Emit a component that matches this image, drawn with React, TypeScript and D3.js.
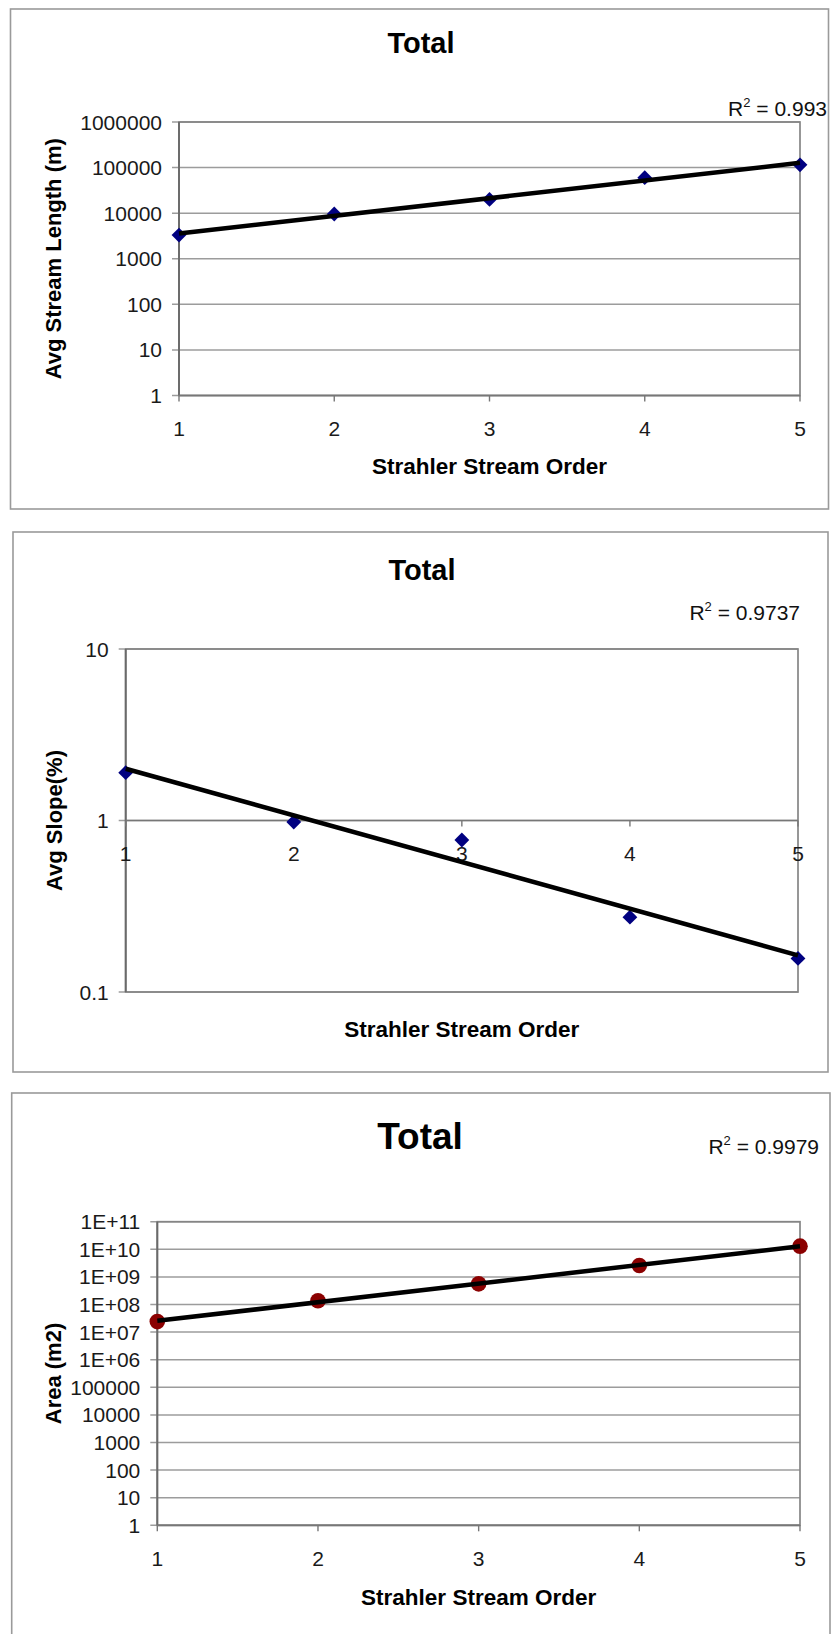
import React from 'react';
import * as d3 from 'd3';

// Strahler stream order on every x axis
const orders = [1, 2, 3, 4, 5];

// values
const avgStreamLength = [3300, 9600, 20000, 60000, 115000];
const avgSlope = [1.9, 0.98, 0.77, 0.273, 0.157];
const area = [2.4e7, 1.36e8, 5.6e8, 2.6e9, 1.3e10];

const lengthTicks = [1, 10, 100, 1000, 10000, 100000, 1000000];
const slopeTicks = [0.1, 1, 10];
const areaTicks = [1, 10, 100, 1000, 10000, 100000, 1e6, 1e7, 1e8, 1e9, 1e10, 1e11];

const r2Values = ['0.993', '0.9737', '0.9979'];

const FONT = 'Liberation Sans, Arial, Helvetica, sans-serif';

const fmtPlain = (v: number) => (v < 1 ? d3.format('.1f')(v) : String(v));
const fmtExcel = (v: number) => {
  if (v < 1e6) return String(v);
  const e = Math.round(Math.log10(v));
  return '1E+' + (e < 10 ? '0' + e : e);
};

// exponential trendline (least squares on log10 y), like Excel
function expFit(xs: number[], ys: number[]) {
  const ly = ys.map((v) => Math.log10(v));
  const mx = d3.mean(xs) as number;
  const my = d3.mean(ly) as number;
  const num = d3.sum(xs, (x, i) => (x - mx) * (ly[i] - my));
  const den = d3.sum(xs, (x) => (x - mx) * (x - mx));
  const b = num / den;
  const a = my - b * mx;
  return (x: number) => Math.pow(10, a + b * x);
}

type PanelCfg = {
  box: { x: number; y: number; w: number; h: number };
  plot: { left: number; right: number; top: number; bottom: number };
  domain: [number, number];
  ticks: number[];
  fmt: (v: number) => string;
  values: number[];
  crossAt: number;
  titleX: number;
  titleY: number;
  titleSize: number;
  r2: string;
  r2X: number;
  r2Y: number;
  yLabel: string;
  yLabelX: number;
  xTitleY: number;
  marker: 'diamond' | 'circle';
};

const panels: PanelCfg[] = [
  {
    box: { x: 10.5, y: 9, w: 818, h: 500 },
    plot: { left: 179, right: 800, top: 122, bottom: 395.5 },
    domain: [1, 1e6],
    ticks: lengthTicks,
    fmt: fmtPlain,
    values: avgStreamLength,
    crossAt: 1,
    titleX: 421,
    titleY: 53,
    titleSize: 29,
    r2: r2Values[0],
    r2X: 827,
    r2Y: 116,
    yLabel: 'Avg Stream Length (m)',
    yLabelX: 61,
    xTitleY: 474,
    marker: 'diamond',
  },
  {
    box: { x: 13, y: 532, w: 815, h: 540 },
    plot: { left: 125.7, right: 798, top: 649, bottom: 992 },
    domain: [0.1, 10],
    ticks: slopeTicks,
    fmt: fmtPlain,
    values: avgSlope,
    crossAt: 1,
    titleX: 422,
    titleY: 580,
    titleSize: 29,
    r2: r2Values[1],
    r2X: 800,
    r2Y: 620,
    yLabel: 'Avg Slope(%)',
    yLabelX: 62,
    xTitleY: 1037,
    marker: 'diamond',
  },
  {
    box: { x: 11.7, y: 1093, w: 818.3, h: 620 },
    plot: { left: 157.3, right: 800, top: 1221.7, bottom: 1525.3 },
    domain: [1, 1e11],
    ticks: areaTicks,
    fmt: fmtExcel,
    values: area,
    crossAt: 1,
    titleX: 420,
    titleY: 1149,
    titleSize: 37,
    r2: r2Values[2],
    r2X: 819,
    r2Y: 1154,
    yLabel: 'Area (m2)',
    yLabelX: 61,
    xTitleY: 1605,
    marker: 'circle',
  },
];

const diamond = d3.symbol(d3.symbolSquare, 110)() as string;

function Panel({ cfg }: { cfg: PanelCfg }) {
  const { plot, box } = cfg;
  const x = d3.scaleLinear().domain([1, 5]).range([plot.left, plot.right]);
  const y = d3.scaleLog().domain(cfg.domain).range([plot.bottom, plot.top]);
  const trend = expFit(orders, cfg.values);
  const line = d3
    .line<number>()
    .x((d) => x(d))
    .y((d) => y(trend(d)));
  const axisY = y(cfg.crossAt);

  return (
    <g>
      <rect x={box.x} y={box.y} width={box.w} height={box.h} fill="#fff" stroke="#9a9a9a" strokeWidth={1.6} />
      <text x={cfg.titleX} y={cfg.titleY} textAnchor="middle" fontFamily={FONT} fontWeight="bold" fontSize={cfg.titleSize} fill="#000">
        Total
      </text>
      <text x={cfg.r2X} y={cfg.r2Y} textAnchor="end" fontFamily={FONT} fontSize={21} fill="#111">
        R<tspan fontSize={13} dy={-9}>2</tspan>
        <tspan dy={9}> = {cfg.r2}</tspan>
      </text>

      {/* gridlines */}
      {cfg.ticks.map((t) => (
        <line key={'g' + t} x1={plot.left - 7} x2={plot.right} y1={y(t)} y2={y(t)} stroke="#9c9c9c" strokeWidth={1.5} />
      ))}
      {/* plot area border */}
      <rect x={plot.left} y={plot.top} width={plot.right - plot.left} height={plot.bottom - plot.top} fill="none" stroke="#858585" strokeWidth={1.7} />
      <line x1={plot.left} x2={plot.left} y1={plot.top} y2={plot.bottom} stroke="#6a6a6a" strokeWidth={1.9} />
      <line x1={plot.left} x2={plot.right} y1={axisY} y2={axisY} stroke="#777" strokeWidth={1.7} />

      {/* y tick labels */}
      {cfg.ticks.map((t) => (
        <text key={'t' + t} x={plot.left - 17} y={y(t)} dy="0.36em" textAnchor="end" fontFamily={FONT} fontSize={21} fill="#1a1a1a">
          {cfg.fmt(t)}
        </text>
      ))}

      {/* x ticks and labels */}
      {orders.map((o) => (
        <g key={'x' + o}>
          <line x1={x(o)} x2={x(o)} y1={axisY} y2={axisY + 6} stroke="#777" strokeWidth={1.4} />
          <text x={x(o)} y={axisY + 33} dy="0.36em" textAnchor="middle" fontFamily={FONT} fontSize={21} fill="#1a1a1a">
            {o}
          </text>
        </g>
      ))}

      {/* data markers */}
      {orders.map((o, i) =>
        cfg.marker === 'diamond' ? (
          <path key={'m' + o} d={diamond} transform={`translate(${x(o)},${y(cfg.values[i])}) rotate(45)`} fill="#000080" />
        ) : (
          <circle key={'m' + o} cx={x(o)} cy={y(cfg.values[i])} r={7.8} fill="#8b0000" />
        )
      )}

      {/* trendline */}
      <path d={line([1, 5]) as string} fill="none" stroke="#000" strokeWidth={4.5} strokeLinecap="butt" />

      {/* axis titles */}
      <text
        transform={`translate(${cfg.yLabelX},${(plot.top + plot.bottom) / 2}) rotate(-90)`}
        textAnchor="middle"
        fontFamily={FONT}
        fontWeight="bold"
        fontSize={22}
        fill="#000"
      >
        {cfg.yLabel}
      </text>
      <text x={(plot.left + plot.right) / 2} y={cfg.xTitleY} textAnchor="middle" fontFamily={FONT} fontWeight="bold" fontSize={22.5} fill="#000">
        Strahler Stream Order
      </text>
    </g>
  );
}

export default function App() {
  return (
    <svg width={832} height={1634} style={{ position: 'absolute', left: 0, top: 0, background: '#fff' }}>
      <rect x={0} y={0} width={832} height={1634} fill="#fff" />
      {panels.map((p, i) => (
        <Panel key={i} cfg={p} />
      ))}
    </svg>
  );
}
